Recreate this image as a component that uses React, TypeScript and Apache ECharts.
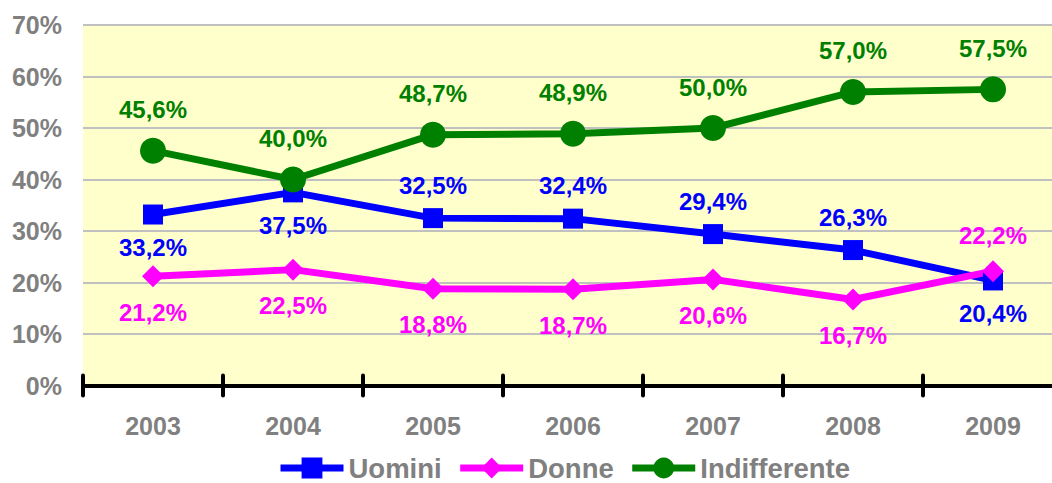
import React, { useEffect, useRef } from "react";
import * as echarts from "echarts";

const years = ["2003", "2004", "2005", "2006", "2007", "2008", "2009"];
const uomini = [33.2, 37.5, 32.5, 32.4, 29.4, 26.3, 20.4];
const donne = [21.2, 22.5, 18.8, 18.7, 20.6, 16.7, 22.2];
const indifferente = [45.6, 40.0, 48.7, 48.9, 50.0, 57.0, 57.5];
const uominiLabelPos = ["bottom", "bottom", "top", "top", "top", "top", "bottom"];
const donneLabelPos = ["bottom", "bottom", "bottom", "bottom", "bottom", "bottom", "top"];

const FONT = "'Liberation Sans', Arial, sans-serif";
const fmt = (v: number) => v.toFixed(1).replace(".", ",") + "%";

export default function App() {
  const ref = useRef<HTMLDivElement>(null);
  useEffect(() => {
    document.body.style.margin = "0";
    const chart = echarts.init(ref.current!, null, { renderer: "svg" });
    const mk = (name: string, vals: number[], color: string, symbol: string, size: number, pos: string[] | null, dist: number) => ({
      name,
      type: "line",
      data: vals.map((v, i) => ({
        value: v,
        label: { position: pos ? pos[i] : "top" },
      })),
      symbol,
      symbolSize: size,
      itemStyle: { color },
      lineStyle: { color, width: 7 },
      label: {
        show: true,
        distance: dist,
        formatter: (p: any) => fmt(p.value),
        color,
        fontSize: 24,
        fontWeight: "bold",
        fontFamily: FONT,
      },
    });
    chart.setOption({
      animation: false,
      grid: {
        left: 83,
        top: 25,
        right: 0,
        height: 360.5,
        show: true,
        backgroundColor: "#FFFFCC",
        borderWidth: 0,
      },
      legend: {
        left: 272,
        top: 449,
        itemWidth: 63,
        itemHeight: 26,
        itemGap: 15,
        lineStyle: { width: 7 },
        textStyle: { color: "#808080", fontSize: 27.5, fontWeight: "bold", fontFamily: FONT },
        data: ["Uomini", "Donne", "Indifferente"],
      },
      xAxis: [
        {
          type: "category",
          data: years,
          boundaryGap: true,
          axisLine: { lineStyle: { color: "#000", width: 4 } },
          axisTick: { show: true, length: 10, inside: false, lineStyle: { color: "#000", width: 4, cap: "round" } },
          axisLabel: { color: "#808080", fontSize: 25, fontWeight: "bold", fontFamily: FONT, margin: 28 },
          splitLine: { show: false },
        },
        {
          type: "category",
          data: years,
          position: "bottom",
          boundaryGap: true,
          axisLine: { show: false },
          axisTick: { show: true, length: 10, inside: true, lineStyle: { color: "#000", width: 4, cap: "round" } },
          axisLabel: { show: false },
          splitLine: { show: false },
        },
      ],
      yAxis: {
        type: "value",
        min: 0,
        max: 70,
        interval: 10,
        axisLine: { show: false },
        axisTick: { show: false },
        axisLabel: {
          formatter: "{value}%",
          color: "#808080",
          fontSize: 25,
          fontWeight: "bold",
          fontFamily: FONT,
          margin: 21,
        },
        splitLine: { lineStyle: { color: "#C0C0C0", width: 2 } },
      },
      series: [
        mk("Uomini", uomini, "#0000FF", "rect", 20, uominiLabelPos, 11),
        mk("Donne", donne, "#FF00FF", "diamond", 22, donneLabelPos, 13),
        mk("Indifferente", indifferente, "#008000", "circle", 26, null, 16),
      ],
    });
    return () => chart.dispose();
  }, []);
  return (
    <div style={{ width: 1052, height: 483, overflow: "hidden" }}>
      <div ref={ref} style={{ width: 1063, height: 483 }} />
    </div>
  );
}
